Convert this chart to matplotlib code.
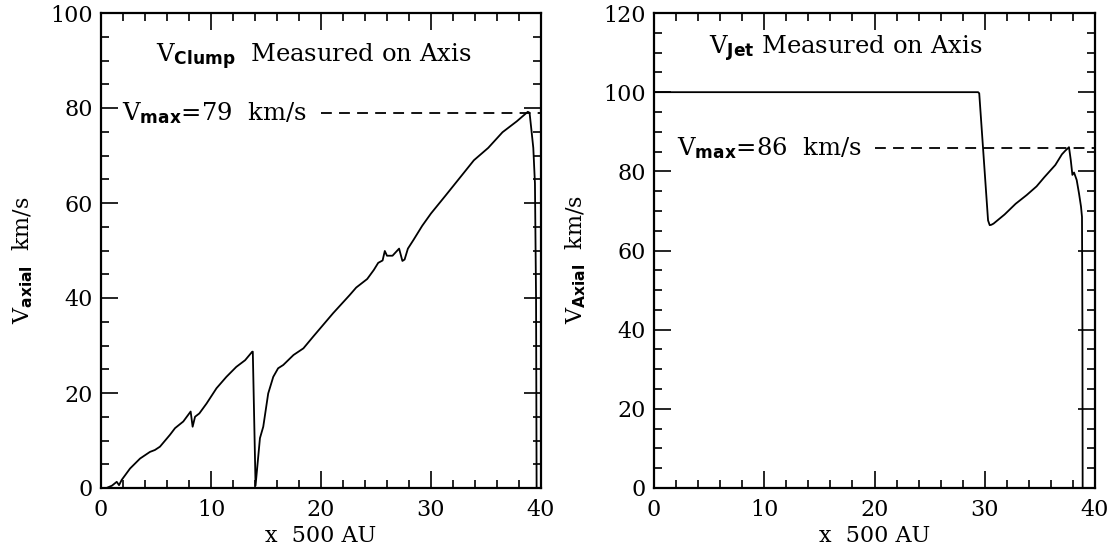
import matplotlib
matplotlib.use("Agg")
import matplotlib.pyplot as plt
from matplotlib.ticker import MultipleLocator

plt.rcParams['font.family'] = ['DejaVu Serif']
plt.rcParams['mathtext.fontset'] = 'custom'
plt.rcParams['mathtext.rm'] = 'DejaVu Serif'
plt.rcParams['mathtext.it'] = 'DejaVu Serif'
plt.rcParams['mathtext.bf'] = 'DejaVu Sans:bold'

# Left panel: clump axial velocity
clump_x = [0.0, 0.5, 1.0, 1.43, 1.64, 1.88, 2.64, 3.55, 4.45, 4.9, 5.36, 6.27, 6.73, 7.48,
           8.15, 8.33, 8.55, 8.94, 9.6, 10.5, 11.4, 12.3, 13.1, 13.75, 13.8, 14.05,
           14.45, 14.75, 15.2, 15.66, 16.1, 16.57, 17.5, 18.4, 19.3, 21.1, 22.6, 23.2,
           24.2, 24.8, 25.2, 25.6, 25.8, 26.0, 26.5, 27.1, 27.4, 27.6, 27.9, 28.4,
           29.2, 30.0, 31.3, 33.0, 33.9, 35.2, 36.5, 37.8, 38.8, 38.96, 39.1, 39.3,
           39.45, 39.55, 39.6]
clump_v = [0.0, 0.0, 0.5, 1.3, 0.6, 1.7, 4.1, 6.2, 7.6, 8.0, 8.7, 11.2, 12.6, 14.0,
           16.1, 12.9, 15.0, 15.7, 17.8, 21.0, 23.4, 25.5, 26.9, 28.7, 28.7, 0.5,
           10.5, 12.9, 19.9, 23.4, 25.2, 25.9, 28.0, 29.4, 31.9, 36.8, 40.6, 42.2,
           44.0, 45.9, 47.4, 47.9, 49.9, 48.9, 48.9, 50.4, 47.8, 48.1, 50.4, 52.2,
           55.2, 57.8, 61.5, 66.4, 69.0, 71.6, 74.9, 77.2, 79.2, 79.0, 76.0, 71.6,
           64.1, 40.0, 0.0]

# Right panel: jet axial velocity
jet_x = [0.0, 29.4, 29.5, 30.3, 30.45, 30.6, 30.8, 31.8, 32.8, 33.8, 34.7,
         35.4, 36.4, 37.0, 37.3, 37.64, 37.8, 37.95, 38.1, 38.34, 38.55, 38.73, 38.82,
         38.86, 38.88]
jet_v = [100.0, 100.0, 99.7, 67.6, 66.4, 66.5, 66.8, 69.1, 71.8, 74.0, 76.2,
         78.5, 81.6, 84.3, 85.2, 86.1, 82.9, 79.1, 79.7, 77.8, 74.4, 71.1, 68.5,
         40.0, 0.0]

clump_vmax = 79
jet_vmax = 86

fig = plt.figure(figsize=(11.11, 5.54), dpi=100)
axL = fig.add_axes([101/1111, 66/554, 440/1111, 475/554])
axR = fig.add_axes([654/1111, 66/554, 441/1111, 475/554])

lw = 1.3
axL.plot(clump_x, clump_v, color='black', lw=lw)
axR.plot(jet_x, jet_v, color='black', lw=lw)

axL.plot([20.0, 40.0], [clump_vmax, clump_vmax], color='black', lw=lw, dashes=(6, 4))
axR.plot([20.0, 40.0], [jet_vmax, jet_vmax], color='black', lw=lw, dashes=(6, 4))

fs = 16
afs = 17.5
axL.text(5.0, 90.8, r'$\mathrm{V}_{\mathbf{Clump}}$  Measured on Axis', fontsize=afs, va='center', ha='left')
axL.text(1.95, 79.0, r'$\mathrm{V}_{\mathbf{max}}$=79  km/s', fontsize=afs, va='center', ha='left')
axR.text(5.0, 110.9, r'$\mathrm{V}_{\mathbf{Jet}}$ Measured on Axis', fontsize=afs, va='center', ha='left')
axR.text(2.1, 86.0, r'$\mathrm{V}_{\mathbf{max}}$=86  km/s', fontsize=afs, va='center', ha='left')

axL.set_xlim(0, 40)
axL.set_ylim(0, 100)
axR.set_xlim(0, 40)
axR.set_ylim(0, 120)

axL.set_ylabel(r'$\mathrm{V}_{\mathbf{axial}}$  km/s', fontsize=fs, labelpad=11)
axR.set_ylabel(r'$\mathrm{V}_{\mathbf{Axial}}$  km/s', fontsize=fs, labelpad=11)
for ax in (axL, axR):
    ax.yaxis.label.set_y(0.48)
    ax.set_xlabel('x  500 AU', fontsize=fs, labelpad=3)
    ax.xaxis.set_major_locator(MultipleLocator(10))
    ax.xaxis.set_minor_locator(MultipleLocator(2))
    ax.yaxis.set_major_locator(MultipleLocator(20))
    ax.yaxis.set_minor_locator(MultipleLocator(5))
    ax.tick_params(which='both', direction='in', top=True, right=True, width=1.2, labelsize=fs)
    ax.tick_params(which='major', length=12, pad=6)
    ax.tick_params(axis='x', which='major', pad=8)
    ax.tick_params(which='minor', length=6)
    for s in ax.spines.values():
        s.set_linewidth(1.6)

fig.savefig('out.png', dpi=100)
